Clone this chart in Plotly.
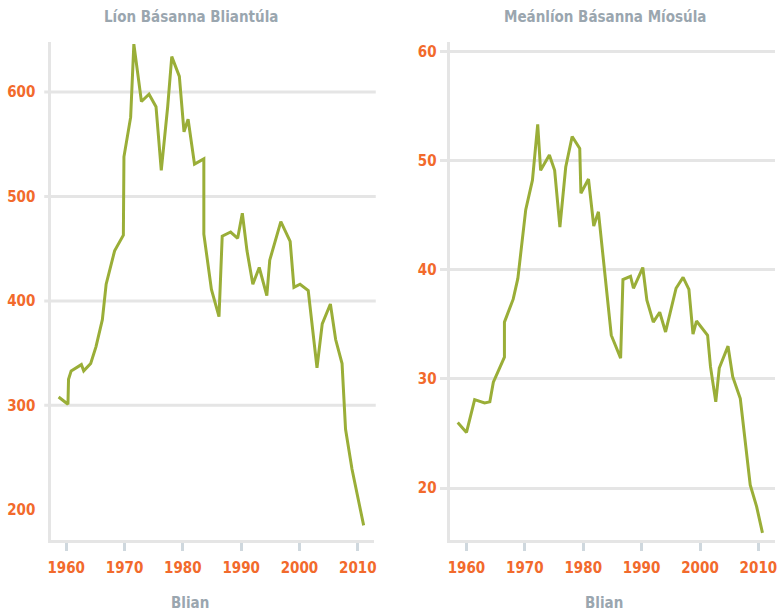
import plotly.graph_objects as go

# annual deaths (left) and average deaths per month (right)
years_left = [1958.7, 1960.3, 1960.4, 1960.85, 1962.6, 1963.0, 1964.2, 1965.1, 1966.2, 1966.85,
              1968.3, 1969.8, 1969.9, 1971.05, 1971.6, 1972.9, 1974.2, 1975.4, 1976.3, 1977.4,
              1978.1, 1979.4, 1980.2, 1980.9, 1982.0, 1983.6, 1983.6, 1984.9, 1986.2, 1986.75,
              1988.2, 1989.4, 1990.2, 1991.0, 1992.0, 1993.1, 1994.4, 1994.9, 1996.8, 1998.4,
              1999.05, 2000.1, 2001.5, 2002.1, 2003.0, 2003.9, 2005.3, 2006.2, 2007.3, 2007.9,
              2009.0, 2011.0]
deaths_left = [308, 301, 325, 333, 339, 333, 340, 356, 382, 416,
               448, 463, 538, 576, 646, 591, 598, 586, 525, 586,
               634, 615, 562, 574, 531, 536, 464, 411, 385, 462,
               466, 460, 484, 448, 416, 432, 405, 439, 476, 457,
               413, 416, 410, 378, 336, 378, 397, 363, 340, 277,
               239, 185]

years_right = [1958.5, 1960.0, 1961.4, 1963.1, 1964.0, 1964.6, 1966.5, 1966.5, 1968.0, 1968.8,
               1970.15, 1971.3, 1972.2, 1972.7, 1974.2, 1975.1, 1976.0, 1977.0, 1978.1, 1979.4,
               1979.6, 1980.9, 1981.8, 1982.6, 1984.8, 1986.4, 1986.8, 1988.1, 1988.6, 1990.2,
               1990.9, 1992.0, 1993.1, 1994.1, 1995.9, 1997.1, 1998.1, 1998.8, 1999.4, 2001.3,
               2001.8, 2002.7, 2003.3, 2004.8, 2005.6, 2006.9, 2008.6, 2009.7, 2010.7]
deaths_right = [26.0, 25.1, 28.1, 27.8, 27.9, 29.7, 32.0, 35.2, 37.3, 39.2,
                45.5, 48.2, 53.3, 49.1, 50.5, 49.1, 43.9, 49.4, 52.2, 51.1,
                47.0, 48.3, 44.0, 45.3, 34.0, 31.9, 39.1, 39.4, 38.3, 40.2,
                37.2, 35.2, 36.1, 34.3, 38.3, 39.3, 38.2, 34.1, 35.3, 34.0,
                31.1, 27.9, 31.0, 33.0, 30.2, 28.2, 20.3, 18.3, 15.9]

xticks = [1960, 1970, 1980, 1990, 2000, 2010]
yticks_left = [200, 300, 400, 500, 600]
grid_left = [300, 400, 500, 600]
yticks_right = [20, 30, 40, 50, 60]

title_left = "Líon Básanna Bliantúla"
title_right = "Meánlíon Básanna Míosúla"
xlabel = "Blian"

font = "Liberation Sans Narrow, DejaVu Sans Condensed, sans-serif"
orange = "#f26a2c"
grey_txt = "#9aa6af"
green = "#9aae38"
gridc = "#e5e5e5"

W, H = 781, 612
def px(x):
    return x / W
def py(y):
    return 1 - y / H

fig = go.Figure()
fig.add_trace(go.Scatter(x=years_left, y=deaths_left, mode="lines",
                         line=dict(color=green, width=3), xaxis="x", yaxis="y"))
fig.add_trace(go.Scatter(x=years_right, y=deaths_right, mode="lines",
                         line=dict(color=green, width=3), xaxis="x2", yaxis="y2"))

xax = dict(tickvals=xticks, ticks="outside", ticklen=8, tickwidth=3, tickcolor="#cfd8de",
           showline=True, linecolor=gridc, linewidth=3, showgrid=False, zeroline=False,
           tickfont=dict(family=font, size=15, color=orange, weight="bold"),
           ticklabelstandoff=4)
yax = dict(showline=True, linecolor=gridc, linewidth=3, zeroline=False,
           tickfont=dict(family=font, size=15, color=orange, weight="bold"))

fig.update_layout(
    width=W, height=H,
    margin=dict(l=0, r=0, t=0, b=0),
    paper_bgcolor="white", plot_bgcolor="white",
    showlegend=False,
    xaxis=dict(xax, domain=[px(47.7), px(373)], range=[1957.45, 2012.8], anchor="y"),
    xaxis2=dict(xax, domain=[px(449), px(776.7)], range=[1957.1, 2012.8], anchor="y2"),
    yaxis=dict(yax, domain=[py(540), py(42)], range=[171, 648], tickvals=yticks_left,
               showgrid=False, ticks="", ticklabelstandoff=10, anchor="x"),
    yaxis2=dict(yax, domain=[py(540), py(42)], range=[15.25, 60.85], tickvals=yticks_right,
                showgrid=True, gridcolor=gridc, gridwidth=3, ticks="outside", ticklen=7,
                tickwidth=3, tickcolor=gridc, anchor="x2"),
)

# left panel grid drawn by hand (no line at 200 in the original)
for v in grid_left:
    fig.add_shape(type="line", xref="x domain", yref="y", x0=-0.022, x1=1.005, y0=v, y1=v,
                  line=dict(color=gridc, width=3), layer="below")

tf = dict(family=font, size=15, color=grey_txt, weight="bold")
for xc, txt in [(188, title_left), (606, title_right)]:
    fig.add_annotation(x=px(xc), y=py(17), xref="paper", yref="paper", text=txt,
                       xanchor="center", yanchor="middle", showarrow=False, font=tf)
for xc in [187, 605]:
    fig.add_annotation(x=px(xc), y=py(603), xref="paper", yref="paper", text=xlabel,
                       xanchor="center", yanchor="middle", showarrow=False, font=tf)

# drop the default 8px page margin so the figure fills the window
fig.write_html("out.html", config={"displayModeBar": False},
               post_script="document.body.style.margin='0px';document.body.style.overflow='hidden';")
